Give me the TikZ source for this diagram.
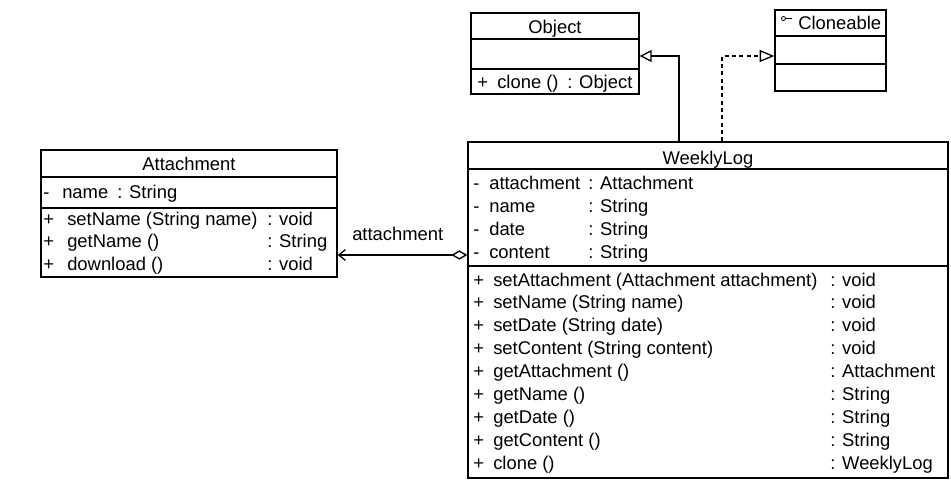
\documentclass[tikz,border=0pt]{standalone}
\usepackage{fontspec}
\setmainfont{Liberation Sans}
\usetikzlibrary{fit,arrows.meta}
\begin{document}
\begin{tikzpicture}[x=0.75pt,y=-0.75pt,
  box/.style={draw,line width=1pt,inner sep=0pt,fit=#1},
  txt/.style={anchor=base west,inner sep=0pt,font=\fontsize{13.8}{15}\selectfont},
  ttl/.style={anchor=base,inner sep=0pt,font=\fontsize{13.8}{15}\selectfont},
  sep/.style={line width=1pt},
  conn/.style={line width=1pt}]
\useasboundingbox (0,0) rectangle (951,497);
\fill[white] (0,0) rectangle (951,497);

% Object
\coordinate (o1) at (471,13); \coordinate (o2) at (639,94);
\node[box={(o1)(o2)}] (obj) {};
\draw[sep] (obj.west |- 0,39) -- (obj.east |- 0,39);
\draw[sep] (obj.west |- 0,69) -- (obj.east |- 0,69);
\node[ttl] (objt) at (555,33) {Object};
\node[txt] (objp) at (477,88) {+};
\node[txt] (objm) at (497,88) {clone ()};
\node[txt] (objr) at (567,88) {: Object};

% Cloneable
\coordinate (c1) at (775,10); \coordinate (c2) at (886,91);
\node[box={(c1)(c2)}] (cl) {};
\draw[sep] (cl.west |- 0,36) -- (cl.east |- 0,36);
\draw[sep] (cl.west |- 0,64) -- (cl.east |- 0,64);
\draw[line width=0.6pt] (783.5,18.5) circle (2) (785.5,18.5) -- (792,18.5);
\node[txt] (clt) at (798,29) {Cloneable};

% Attachment
\coordinate (a1) at (41,150); \coordinate (a2) at (337,277);
\node[box={(a1)(a2)}] (att) {};
\draw[sep] (att.west |- 0,177) -- (att.east |- 0,177);
\draw[sep] (att.west |- 0,208) -- (att.east |- 0,208);
\node[ttl] (attt) at (189,170) {Attachment};
\node[txt] (atv) at (43,198) {-};
\node[txt] (atn) at (62,198) {name};
\node[txt] (att2) at (117,198) {: String};
\foreach \n/\r [count=\i from 0] in {setName (String name)/: void, getName ()/: String, download ()/: void}{
  \node[txt] (amp\i) at (43,225+22.5*\i) {+};
  \node[txt] (amn\i) at (67,225+22.5*\i) {\n};
  \node[txt] (amr\i) at (267,225+22.5*\i) {\r};
}

% WeeklyLog
\coordinate (w1) at (468,142); \coordinate (w2) at (948,478);
\node[box={(w1)(w2)}] (wl) {};
\draw[sep] (wl.west |- 0,169) -- (wl.east |- 0,169);
\draw[sep] (wl.west |- 0,266) -- (wl.east |- 0,266);
\node[ttl] (wlt) at (708,164) {WeeklyLog};
\foreach \n/\r [count=\i from 0] in {attachment/: Attachment, name/: String, date/: String, content/: String}{
  \node[txt] (wav\i) at (473,189+23.2*\i) {-};
  \node[txt] (wan\i) at (489,189+23.2*\i) {\n};
  \node[txt] (wat\i) at (588,189+23.2*\i) {\r};
}
\foreach \n/\r [count=\i from 0] in {setAttachment (Attachment attachment)/: void, setName (String name)/: void, setDate (String date)/: void, setContent (String content)/: void, getAttachment ()/: Attachment, getName ()/: String, getDate ()/: String, getContent ()/: String, clone ()/: WeeklyLog}{
  \node[txt] (wmp\i) at (473,286+22.9*\i) {+};
  \node[txt] (wmn\i) at (493,286+22.9*\i) {\n};
  \node[txt] (wmr\i) at (830,286+22.9*\i) {\r};
}

% connectors
\coordinate (g) at (679,56);
\draw[conn,-{Triangle[open,length=9pt,width=9pt]}] (wl.north -| g) |- (obj.east |- g);
\coordinate (r) at (722,56);
\draw[conn,dash pattern=on 3pt off 2.5pt,-{Triangle[open,length=11pt,width=9pt]}] (wl.north -| r) |- (cl.west |- r);
\coordinate (as) at (0,255);
\draw[conn,{Straight Barb[length=5pt,width=8pt]}-{Diamond[open,length=12pt,width=7pt]}] (att.east |- as) -- (wl.west |- as);
\node[txt] (al) at (352,240) {attachment};
\end{tikzpicture}
\end{document}
